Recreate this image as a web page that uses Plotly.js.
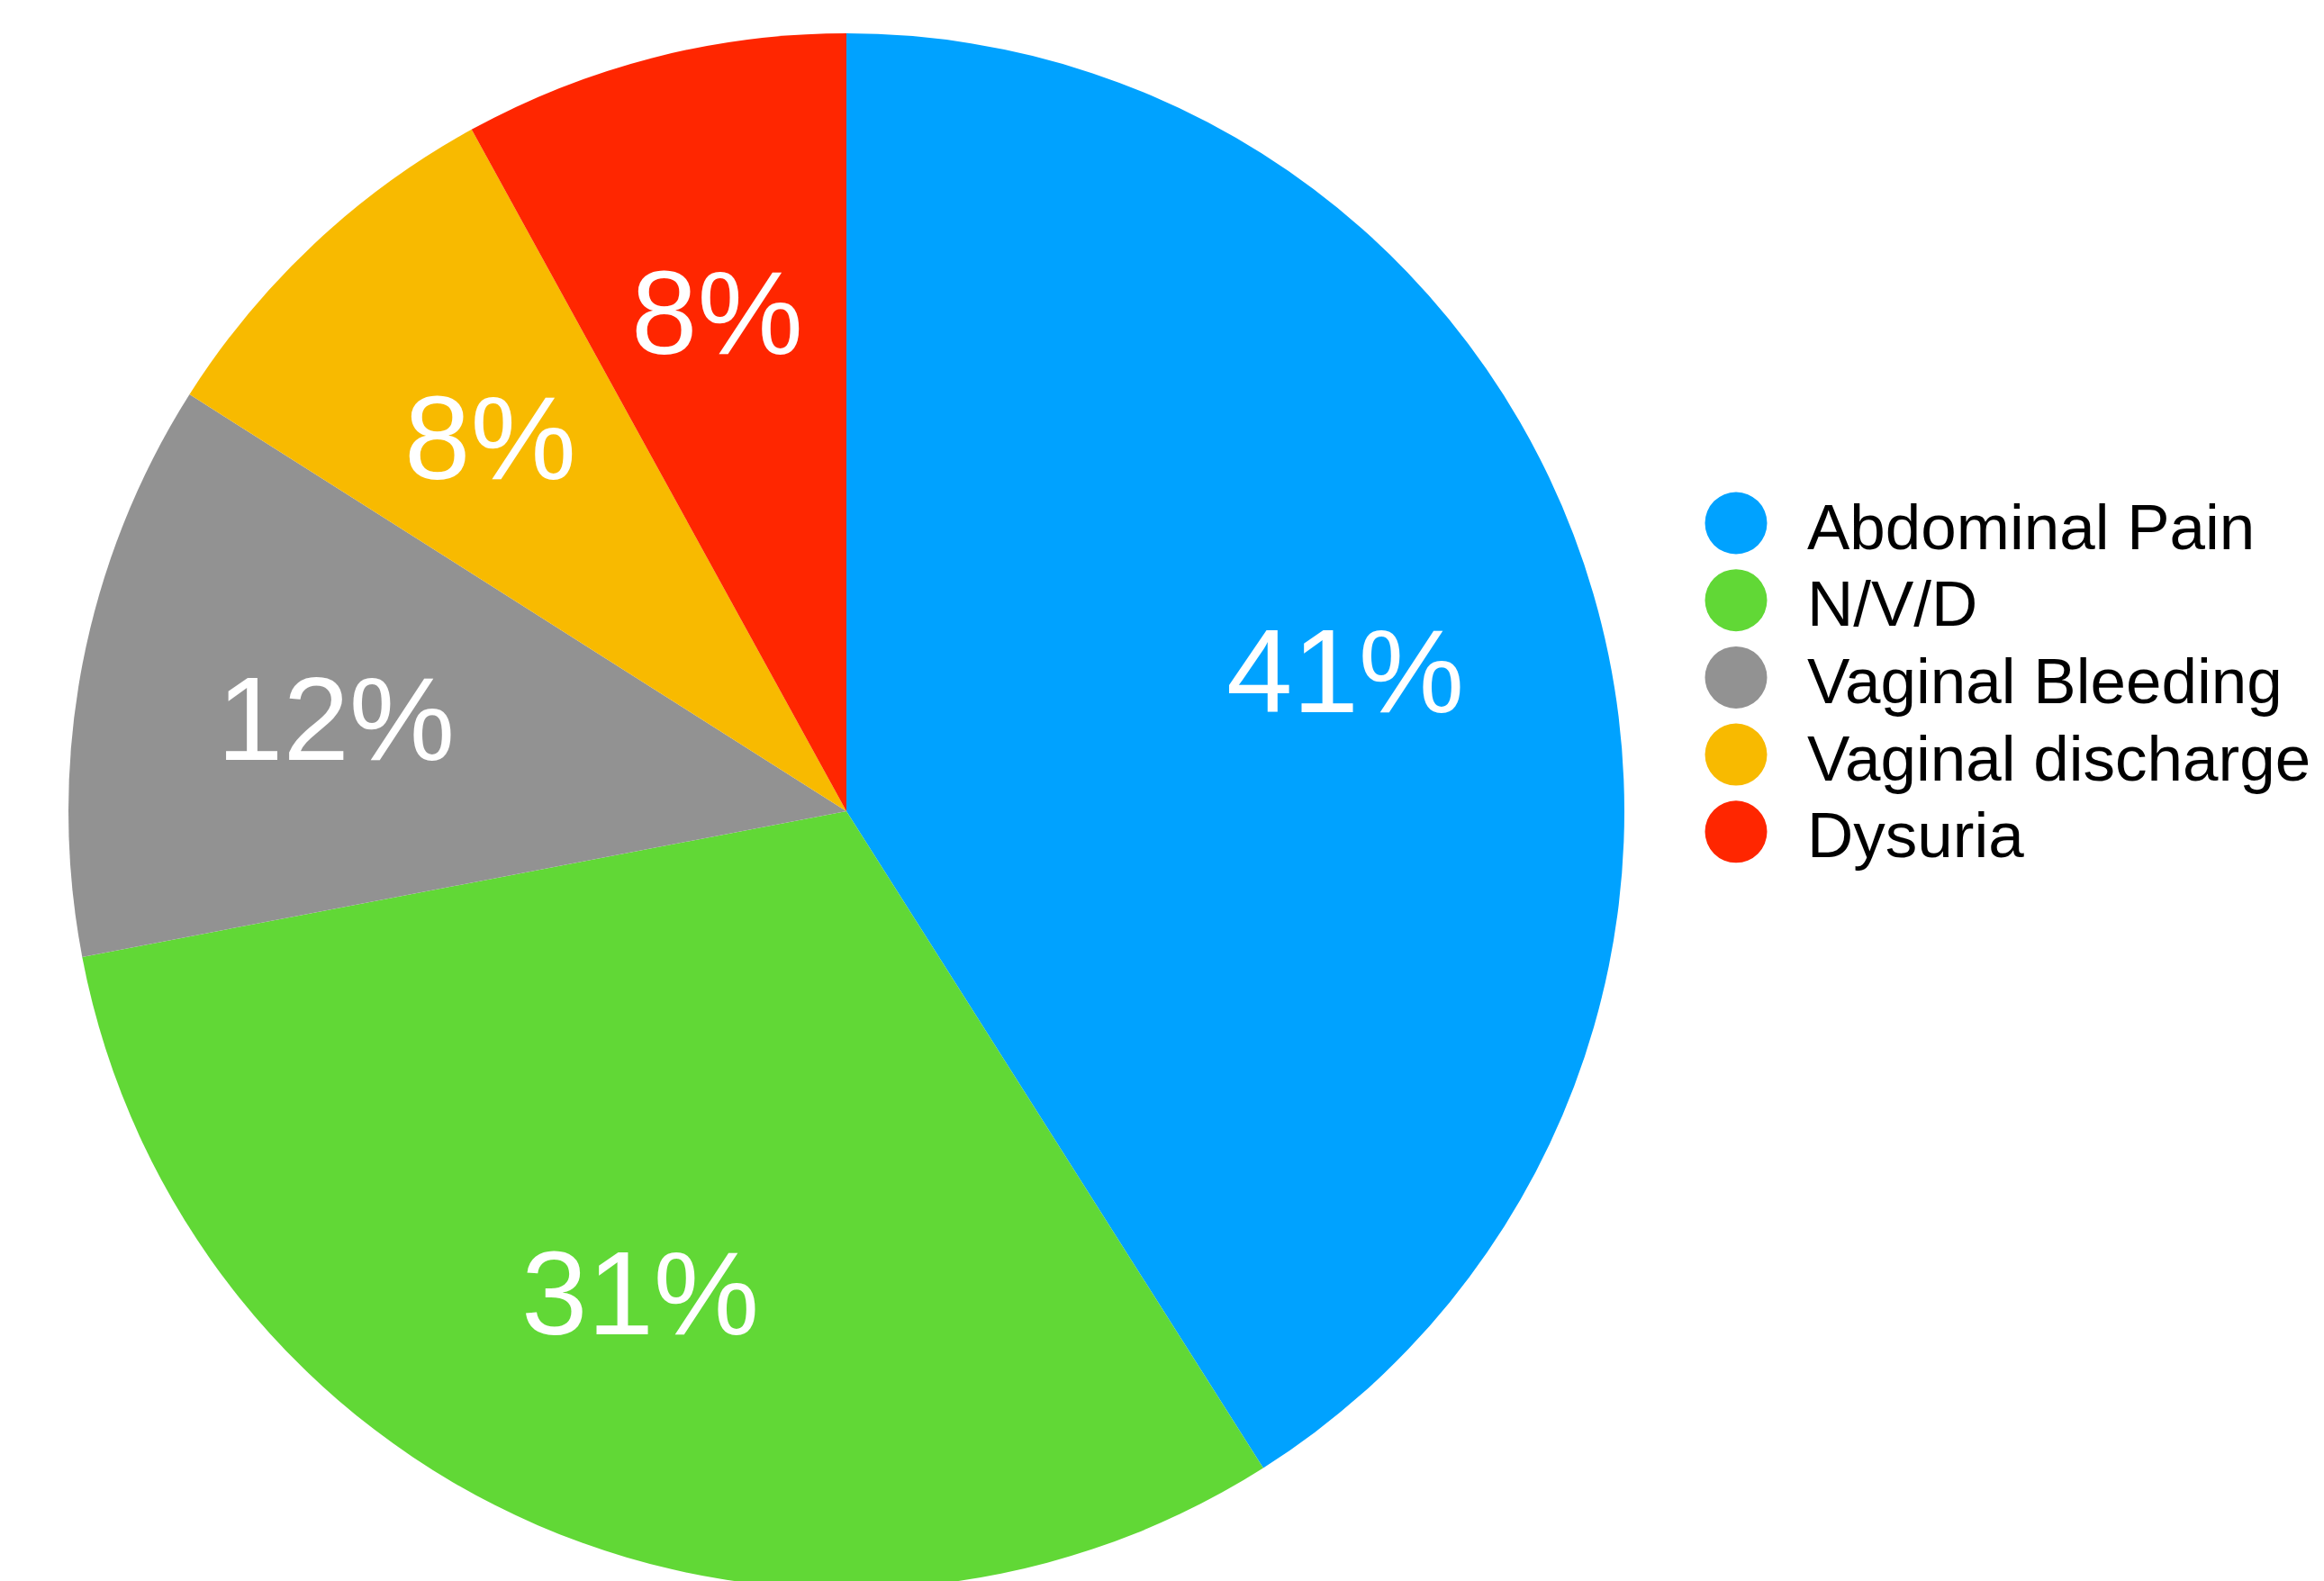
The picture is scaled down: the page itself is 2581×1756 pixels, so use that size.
<!DOCTYPE html>
<html>
<head>
<meta charset="utf-8">
<script src="https://cdn.plot.ly/plotly-3.0.1.min.js"></script>
<style>
html, body { margin: 0; padding: 0; overflow: hidden; background: #fff; width: 2581px; height: 1756px; }
#chart { width: 2581px; height: 1765px; }
</style>
</head>
<body>
<div id="chart"></div>
<script>
const labels = ["Abdominal Pain", "N/V/D", "Vaginal Bleeding", "Vaginal discharge", "Dysuria"];
const values = [41, 31, 12, 8, 8];
const colors = ["#00A2FF", "#61D836", "#929292", "#F8BA00", "#FF2600"];

const W = 2581, H = 1765, MT = 37;
const plotH = H - MT;
const toPx = px => px / W;
const toPy = py => 1 - (py - MT) / plotH;

// pie geometry (pixels)
const pieX0 = 76, pieX1 = 1804;
const cx = (pieX0 + pieX1) / 2, cyPie = MT + plotH / 2, R = plotH / 2;
const labelFrac = 0.668;

const FONT = "Liberation Sans, Arial, Helvetica, sans-serif";
const legendX = 1928, legendTextX = 2005, legendY0 = 581, legendDY = 85.7, markR = 34.5;

const shapes = [];
const annotations = [];
labels.forEach((lab, i) => {
  const cy = legendY0 + i * legendDY;
  shapes.push({
    type: "circle", xref: "paper", yref: "paper",
    xsizemode: "pixel", ysizemode: "pixel",
    xanchor: toPx(legendX), yanchor: toPy(cy),
    x0: -markR, x1: markR, y0: -markR, y1: markR,
    fillcolor: colors[i], line: { width: 0 }
  });
  annotations.push({
    xref: "paper", yref: "paper", x: toPx(legendTextX), y: toPy(cy + 4),
    xanchor: "left", yanchor: "middle", showarrow: false,
    text: lab, font: { family: FONT, size: 71, color: "#000" }
  });
});

// percentage labels inside the slices, placed at the slice mid-angle
const total = values.reduce((a, b) => a + b, 0);
let cum = 0;
values.forEach((v, i) => {
  const mid = (cum + v / 2) / total * 2 * Math.PI; // clockwise from 12 o'clock
  cum += v;
  const px = cx + labelFrac * R * Math.sin(mid);
  const py = cyPie - labelFrac * R * Math.cos(mid);
  annotations.push({
    xref: "paper", yref: "paper", x: toPx(px), y: toPy(py + 6),
    xanchor: "center", yanchor: "middle", showarrow: false,
    text: Math.round(v / total * 100) + "%",
    font: { family: FONT, size: 132, color: "#fff" }
  });
});

const trace = {
  type: "pie",
  labels: labels,
  values: values,
  sort: false,
  direction: "clockwise",
  rotation: 0,
  marker: { colors: colors, line: { width: 0 } },
  textinfo: "none",
  hoverinfo: "label+percent",
  showlegend: false,
  domain: { x: [pieX0 / W, pieX1 / W], y: [0, 1] }
};

const layout = {
  width: W, height: H,
  margin: { l: 0, r: 0, t: MT, b: 0, pad: 0 },
  paper_bgcolor: "#fff", plot_bgcolor: "#fff",
  showlegend: false,
  shapes: shapes,
  annotations: annotations,
  font: { family: FONT }
};

Plotly.newPlot("chart", [trace], layout, { staticPlot: true, displayModeBar: false });
</script>
</body>
</html>
